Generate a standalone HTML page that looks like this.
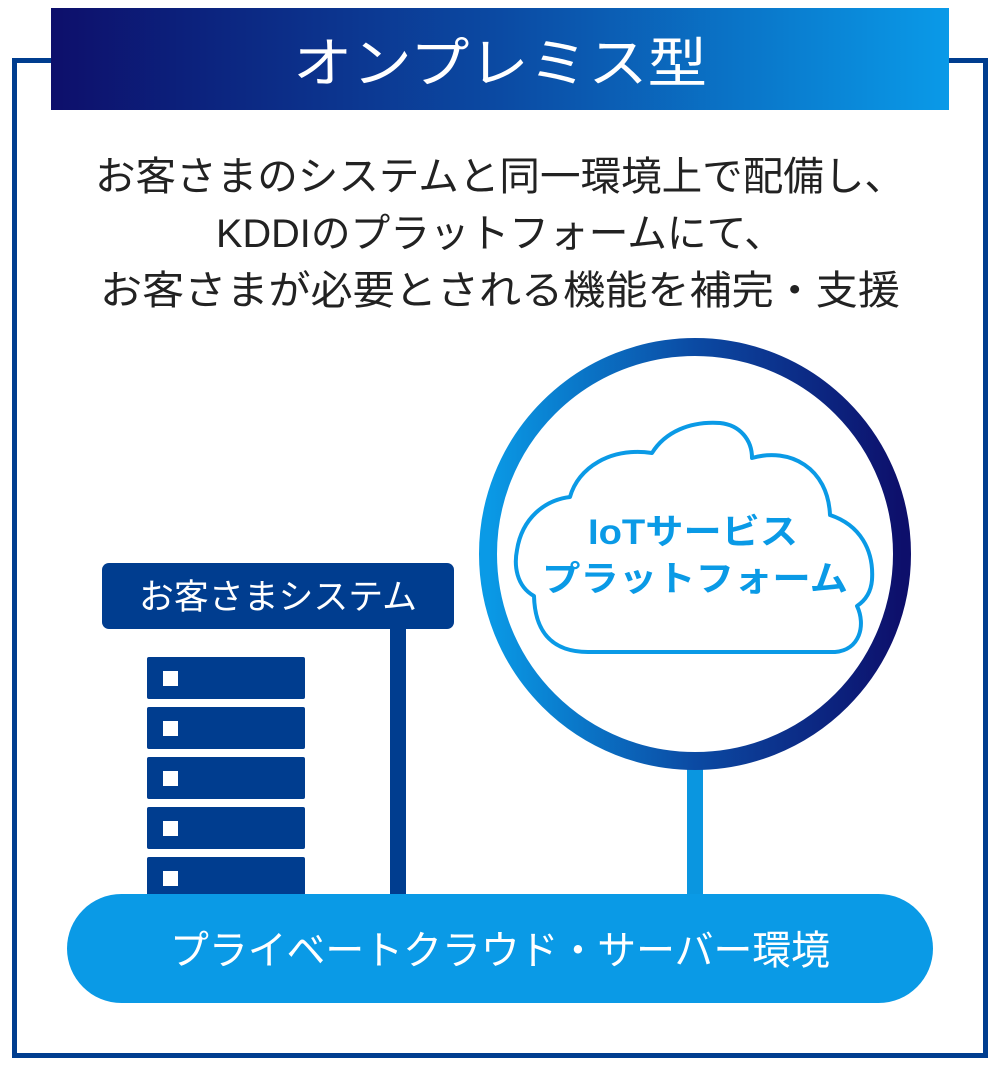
<!DOCTYPE html>
<html><head><meta charset="utf-8"><style>
html,body{margin:0;padding:0;background:#fff;}
svg{display:block;}
text{font-family:"Liberation Sans","Noto Sans CJK JP",sans-serif;}
</style></head><body>
<svg width="1000" height="1068" viewBox="0 0 1000 1068" xmlns="http://www.w3.org/2000/svg">
<defs>
<linearGradient id="hg" x1="0" x2="1" y1="0" y2="0">
<stop offset="0" stop-color="#0d0f6b"/><stop offset="0.5" stop-color="#0b4aa3"/><stop offset="1" stop-color="#0a9ae8"/>
</linearGradient>
<linearGradient id="cg" x1="0" x2="1" y1="0" y2="0">
<stop offset="0" stop-color="#0a9ae6"/><stop offset="0.5" stop-color="#0b4aa3"/><stop offset="1" stop-color="#0d0f6b"/>
</linearGradient>
</defs>
<rect x="14.5" y="60.5" width="971" height="995" fill="none" stroke="#003d8f" stroke-width="5"/>
<rect x="51" y="8" width="898" height="102" fill="url(#hg)"/>
<text x="500" y="82" font-size="54" fill="#fff" text-anchor="middle" textLength="414" lengthAdjust="spacingAndGlyphs">オンプレミス型</text>
<g fill="#222" font-size="40" text-anchor="middle">
<text x="500" y="190" textLength="810" lengthAdjust="spacingAndGlyphs">お客さまのシステムと同一環境上で配備し、</text>
<text x="500" y="247" textLength="568" lengthAdjust="spacingAndGlyphs">KDDIのプラットフォームにて、</text>
<text x="500" y="304" textLength="800" lengthAdjust="spacingAndGlyphs">お客さまが必要とされる機能を補完・支援</text>
</g>
<rect x="102" y="563" width="352" height="66" rx="7" fill="#003d8f"/>
<text x="278" y="609" font-size="35" fill="#fff" text-anchor="middle" textLength="278" lengthAdjust="spacingAndGlyphs">お客さまシステム</text>
<rect x="390" y="625" width="16" height="275" fill="#003d8f"/>
<g fill="#003d8f">
<rect x="147" y="657" width="158" height="42" rx="2"/>
<rect x="147" y="707" width="158" height="42" rx="2"/>
<rect x="147" y="757" width="158" height="42" rx="2"/>
<rect x="147" y="807" width="158" height="42" rx="2"/>
<rect x="147" y="857" width="158" height="42" rx="2"/>
</g>
<g fill="#fff">
<rect x="163" y="671" width="15" height="15"/>
<rect x="163" y="721" width="15" height="15"/>
<rect x="163" y="771" width="15" height="15"/>
<rect x="163" y="821" width="15" height="15"/>
<rect x="163" y="871" width="15" height="15"/>
</g>
<rect x="687" y="765" width="16" height="135" fill="#0a96e0"/>
<circle cx="695" cy="554" r="207" fill="#fff" stroke="url(#cg)" stroke-width="18"/>
<path d="M588 652 C555 652 535 635 534 596 C516 586 514 565 517 550 C522 518 545 500 570 497 C578 468 610 447 652 453 C665 432 690 421 720 423 C740 425 752 440 752 458 C790 447 828 468 830 515 C860 525 874 550 872 580 C871 592 866 600 857 606 C866 625 860 650 835 652 Z" fill="#fff" stroke="#0a9ae6" stroke-width="4" stroke-linejoin="round"/>
<g fill="#0a9ae6" font-size="35" font-weight="bold" text-anchor="middle">
<text x="693" y="544" textLength="210" lengthAdjust="spacingAndGlyphs">IoTサービス</text>
<text x="695" y="591" textLength="306" lengthAdjust="spacingAndGlyphs">プラットフォーム</text>
</g>
<rect x="67" y="894" width="866" height="109" rx="54.5" fill="#0a9ae6"/>
<text x="500" y="964" font-size="40" fill="#fff" text-anchor="middle" textLength="660" lengthAdjust="spacingAndGlyphs">プライベートクラウド・サーバー環境</text>
</svg>
</body></html>
